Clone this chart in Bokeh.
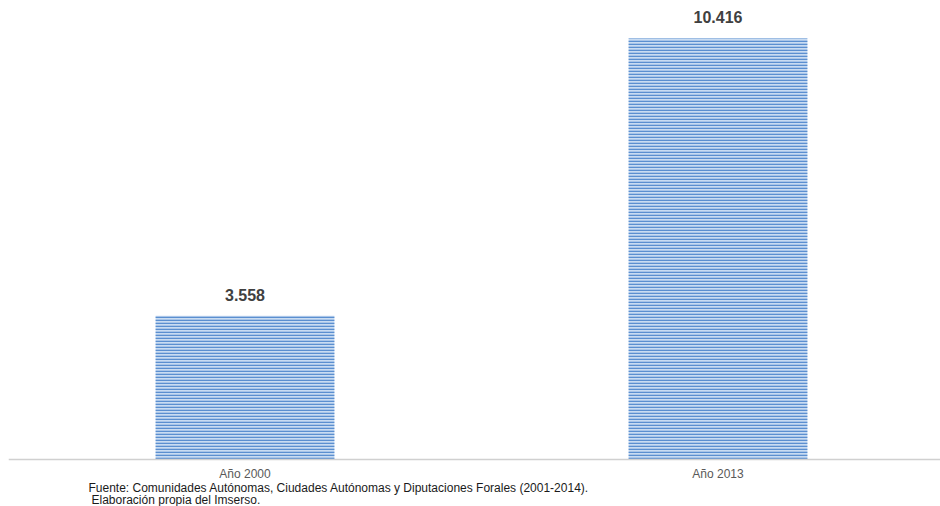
from bokeh.plotting import figure
from bokeh.models import Range1d, Label, ColumnDataSource, Span
from bokeh.core.properties import value
from bokeh.embed import file_html
from bokeh.resources import INLINE

categories = ["Año 2000", "Año 2013"]
values = [3558, 10416]
source_lines = ["Fuente: Comunidades Autónomas, Ciudades Autónomas y Diputaciones Forales (2001-2014).",
                " Elaboración propia del Imserso."]

xs = list(range(len(categories)))
labels = [f"{v:,}".replace(",", ".") for v in values]
src = ColumnDataSource(dict(x=xs, top=values, label=labels, cat=categories, zero=[0] * len(xs)))

p = figure(width=940, height=506, output_backend="svg", toolbar_location=None,
           x_range=Range1d(-0.5, 1.4704), y_range=Range1d(-1163, 11356),
           min_border_left=8, min_border_right=0, min_border_top=0, min_border_bottom=0)
p.outline_line_color = None
p.grid.visible = False
p.axis.visible = False

p.vbar(x="x", top="top", width=0.378, bottom=0, source=src,
       fill_color="#c9dcf2", line_color=None,
       hatch_pattern="horizontal_line", hatch_color="#5b8fd0",
       hatch_scale=3, hatch_weight=1.6)

p.add_layout(Span(location=0, dimension="width", line_color="#d0d0d0", line_width=1.5))

p.text(x="x", y="top", text="label", source=src, y_offset=-15,
       text_align="center", text_baseline="bottom",
       text_font=value("Liberation Sans"), text_font_size="16px",
       text_font_style="bold", text_color="#404040")

p.text(x="x", y="zero", text="cat", source=src, y_offset=15,
       text_align="center", text_baseline="middle",
       text_font=value("Liberation Sans"), text_font_size="12px",
       text_color="#595959")

for line, xpos, ypos in zip(source_lines, [88, 91], [487, 499]):
    p.add_layout(Label(x=xpos - 8, y=506 - ypos, x_units="screen", y_units="screen",
                       text=line.strip(), text_baseline="middle", text_align="left",
                       text_font="Liberation Sans", text_font_size="12px",
                       text_color="#1a1a1a"))

open("out.html", "w").write(file_html(p, INLINE))
